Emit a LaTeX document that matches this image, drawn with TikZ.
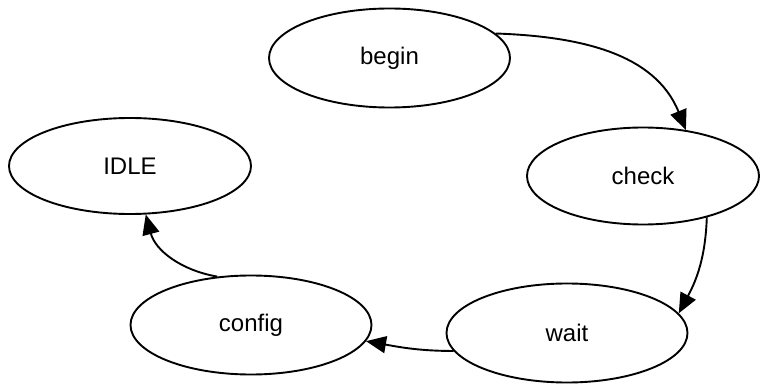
\documentclass[tikz,border=0pt]{standalone}
\usepackage{fontspec}
\setmainfont{Liberation Sans}
\usetikzlibrary{shapes.geometric,arrows.meta}
\tikzset{
  state/.style={ellipse, draw, line width=1.9pt, inner sep=0pt,
    minimum width=241pt, minimum height=99pt,
    font=\fontsize{24}{28}\selectfont},
  trans/.style={line width=1.9pt, -{Triangle[length=20pt,width=17pt]}}
}
\begin{document}
\begin{tikzpicture}[x=1pt,y=-1pt]
  \useasboundingbox (0,0) rectangle (761,385);
  % states
  \node[state] (begin)  at (389.5,58) {begin};
  \node[state, minimum width=232pt, minimum height=97pt] (check) at (643,176) {check};
  \node[state, minimum width=242pt, minimum height=96pt] (idle) at (130,166) {IDLE};
  \node[state] (config) at (251,325) {config};
  \node[state] (wait)   at (567,333) {wait};
  % transitions
  \draw[trans] (begin.13.5) to[out=-2, in=112] (check.47);
  \draw[trans] (check.-33) to[out=-92, in=62] (wait.10);
  \draw[trans] (wait.-171.5) to[out=180, in=-10] (config.-8.6);
  \draw[trans] (config.125) to[out=170, in=-75] (idle.-72);
\end{tikzpicture}
\end{document}
